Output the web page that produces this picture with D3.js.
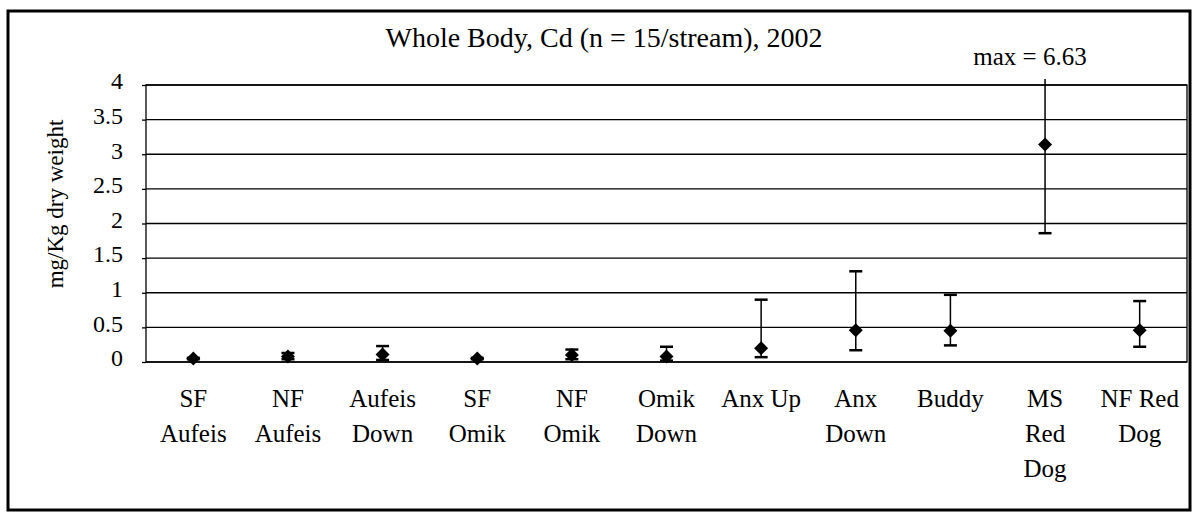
<!DOCTYPE html>
<html>
<head>
<meta charset="utf-8">
<script src="https://cdn.jsdelivr.net/npm/d3@7"></script>
<style>
    html, body { margin: 0; padding: 0; background: #fff; }
    svg { display: block; }
    svg text { font-family: "Liberation Serif", "DejaVu Serif", serif; fill: #000; }
</style>
</head>
<body>
<svg id="chart" width="1196" height="514" font-family="Liberation Serif"></svg>
<script>
const categories = ['SF\nAufeis', 'NF\nAufeis', 'Aufeis\nDown', 'SF\nOmik', 'NF\nOmik', 'Omik\nDown',
    'Anx Up', 'Anx\nDown', 'Buddy', 'MS\nRed\nDog', 'NF Red\nDog'];
const means = [0.05, 0.08, 0.11, 0.05, 0.10, 0.08, 0.20, 0.46, 0.45, 3.14, 0.46];
const upper = [0.06, 0.13, 0.23, 0.06, 0.18, 0.22, 0.90, 1.31, 0.97, 6.63, 0.88];
const lower = [0.04, 0.04, 0.03, 0.04, 0.04, 0.02, 0.07, 0.17, 0.24, 1.86, 0.22];
const yTicks = [0, 0.5, 1, 1.5, 2, 2.5, 3, 3.5, 4];
const titleText = 'Whole Body, Cd (n = 15/stream), 2002';
const yTitle = 'mg/Kg dry weight';
const maxNote = 'max = 6.63';

document.addEventListener('DOMContentLoaded', () => {
    'use strict';

    let svg = d3.select('#chart'),
        serif = '"Liberation Serif", "DejaVu Serif", serif',
        plot = { left: 146, right: 1187, top: 85, bottom: 362 };

    let data = categories.map((c, i) => ({ cat: c, mean: means[i], hi: upper[i], lo: lower[i] }));

    let x = d3.scaleBand()
        .domain(categories)
        .range([plot.left, plot.right]);

    let y = d3.scaleLinear()
        .domain([0, 4])
        .range([plot.bottom, plot.top]);

    // outer frame of the whole chart
    svg.append('rect')
        .attr('x', 8).attr('y', 11)
        .attr('width', 1182).attr('height', 499)
        .attr('fill', 'none')
        .attr('stroke', '#000')
        .attr('stroke-width', 3);

    svg.append('text')
        .attr('x', 604).attr('y', 47)
        .attr('text-anchor', 'middle')
        .style('font-family', serif)
        .style('font-size', '28px')
        .text(titleText);

    // grid lines
    svg.append('g')
        .selectAll('line')
        .data(yTicks)
      .enter().append('line')
        .attr('x1', plot.left).attr('x2', plot.right)
        .attr('y1', d => y(d)).attr('y2', d => y(d))
        .attr('stroke', '#000')
        .attr('stroke-width', 1.3);

    svg.append('rect')
        .attr('x', plot.left).attr('y', plot.top)
        .attr('width', plot.right - plot.left).attr('height', plot.bottom - plot.top)
        .attr('fill', 'none')
        .attr('stroke', '#000')
        .attr('stroke-width', 1.3);

    let yAxis = svg.append('g')
        .attr('transform', 'translate(' + plot.left + ',0)')
        .call(d3.axisLeft(y).tickValues(yTicks).tickSize(4).tickPadding(19).tickFormat(d3.format('')));
    yAxis.attr('font-family', null).attr('font-size', null);
    yAxis.select('.domain').remove();
    yAxis.selectAll('line').attr('stroke', '#000').attr('stroke-width', 1.3);
    yAxis.selectAll('text')
        .attr('fill', '#000')
        .attr('dy', '0.16em')
        .style('font-family', serif)
        .style('font-size', '24px');

    svg.append('text')
        .attr('transform', 'translate(55,204) rotate(-90)')
        .attr('text-anchor', 'middle')
        .attr('dy', '0.35em')
        .style('font-family', serif)
        .style('font-size', '23px')
        .text(yTitle);

    // category labels, one tspan per line
    let labels = svg.append('g')
        .selectAll('text')
        .data(categories)
      .enter().append('text')
        .attr('text-anchor', 'middle')
        .style('font-family', serif)
        .style('font-size', '25px');
    labels.selectAll('tspan')
        .data(d => d.split('\n').map(line => ({ line, cat: d })))
      .enter().append('tspan')
        .attr('x', d => x(d.cat) + x.bandwidth() / 2)
        .attr('y', (d, i) => 407 + i * 35)
        .text(d => d.line);

    // error bars
    let cx = d => x(d.cat) + x.bandwidth() / 2,
        clipped = d => d.hi > y.domain()[1],
        hiY = d => clipped(d) ? plot.top - 6 : y(d.hi);

    let bars = svg.append('g').selectAll('g')
        .data(data)
      .enter().append('g');

    bars.append('line')
        .attr('x1', cx).attr('x2', cx)
        .attr('y1', d => y(d.lo)).attr('y2', hiY)
        .attr('stroke', '#000')
        .attr('stroke-width', 1.5);

    bars.filter(d => !clipped(d)).append('line')
        .attr('x1', d => cx(d) - 6.5).attr('x2', d => cx(d) + 6.5)
        .attr('y1', d => y(d.hi)).attr('y2', d => y(d.hi))
        .attr('stroke', '#000')
        .attr('stroke-width', 2.5);

    bars.append('line')
        .attr('x1', d => cx(d) - 6.5).attr('x2', d => cx(d) + 6.5)
        .attr('y1', d => y(d.lo)).attr('y2', d => y(d.lo))
        .attr('stroke', '#000')
        .attr('stroke-width', 2.5);

    // diamond markers
    bars.append('path')
        .attr('d', d3.symbol(d3.symbolSquare, 98))
        .attr('transform', d => 'translate(' + cx(d) + ',' + y(d.mean) + ') rotate(45)')
        .attr('fill', '#000');

    let maxBar = data.find(clipped);
    svg.append('text')
        .attr('x', cx(maxBar) - 15).attr('y', 65)
        .attr('text-anchor', 'middle')
        .style('font-family', serif)
        .style('font-size', '25px')
        .text(maxNote);
});
</script>
</body>
</html>
